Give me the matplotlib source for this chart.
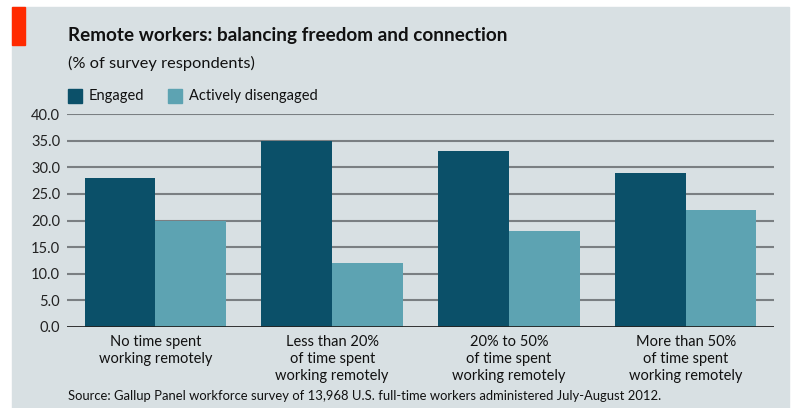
import matplotlib.pyplot as plt
import numpy as np

categories = ['No time spent\nworking remotely',
              'Less than 20%\nof time spent\nworking remotely',
              '20% to 50%\nof time spent\nworking remotely',
              'More than 50%\nof time spent\nworking remotely']
engaged = [28, 35, 33, 29]
disengaged = [20, 12, 18, 22]
yticks = [0, 5, 10, 15, 20, 25, 30, 35, 40]

bg = '#d8e0e3'
c_eng = '#0b5069'
c_dis = '#5da3b2'

plt.rcParams['font.family'] = ['Lato', 'DejaVu Sans']

fig = plt.figure(figsize=(7.96, 4.08), dpi=100)
fig.patch.set_facecolor('white')
# grey panel and red tag
fig.patches.append(plt.Rectangle((12/796, 0), (789-12)/796, (408-7)/408,
                                 transform=fig.transFigure, color=bg, zorder=-2))
fig.patches.append(plt.Rectangle((12/796, 1-45/408), 13/796, 38/408,
                                 transform=fig.transFigure, color='#ff2a00', zorder=-1))

ax = fig.add_axes([67/796, 1-327/408, (774-67)/796, (327-114)/408])
ax.set_facecolor(bg)
x = np.arange(len(categories))
w = 0.4
ax.bar(x - w/2, engaged, w, color=c_eng, zorder=3)
ax.bar(x + w/2, disengaged, w, color=c_dis, zorder=3)

ax.set_xlim(-0.5, 3.5)
ax.set_ylim(0, 40)
ax.set_yticks(yticks)
ax.set_yticklabels(['%.1f' % v for v in yticks], fontsize=10.5, color='#222222')
for v in yticks[1:]:
    ax.axhline(v, color='#7a7f82', lw=1.5, zorder=1)
ax.axhline(0, color='#222222', lw=2, zorder=4)
ax.tick_params(axis='y', length=0, pad=5)
ax.set_xticks(x)
ax.set_xticklabels(categories, fontsize=10.5, color='#111111', linespacing=1.25)
ax.tick_params(axis='x', length=0, pad=6)
for s in ax.spines.values():
    s.set_visible(False)

fig.text(68/796, 1-41/408, 'Remote workers: balancing freedom and connection',
         fontsize=13.6, fontweight='bold', color='#111111', va='baseline')
fig.text(68/796, 1-68/408, '(% of survey respondents)', fontsize=11.8,
         color='#111111', va='baseline')
fig.patches.append(plt.Rectangle((68/796, 1-103/408), 14/796, 14/408,
                                 transform=fig.transFigure, color=c_eng))
fig.text(89/796, 1-96/408, 'Engaged', fontsize=10.5, color='#111111', va='center')
fig.patches.append(plt.Rectangle((168/796, 1-103/408), 14/796, 14/408,
                                 transform=fig.transFigure, color=c_dis))
fig.text(189/796, 1-96/408, 'Actively disengaged', fontsize=10.5, color='#111111', va='center')
fig.text(68/796, 1-396/408,
         'Source: Gallup Panel workforce survey of 13,968 U.S. full-time workers administered July-August 2012.',
         fontsize=9.4, color='#111111', va='center')

fig.savefig('out.png', dpi=100, facecolor=fig.get_facecolor())
